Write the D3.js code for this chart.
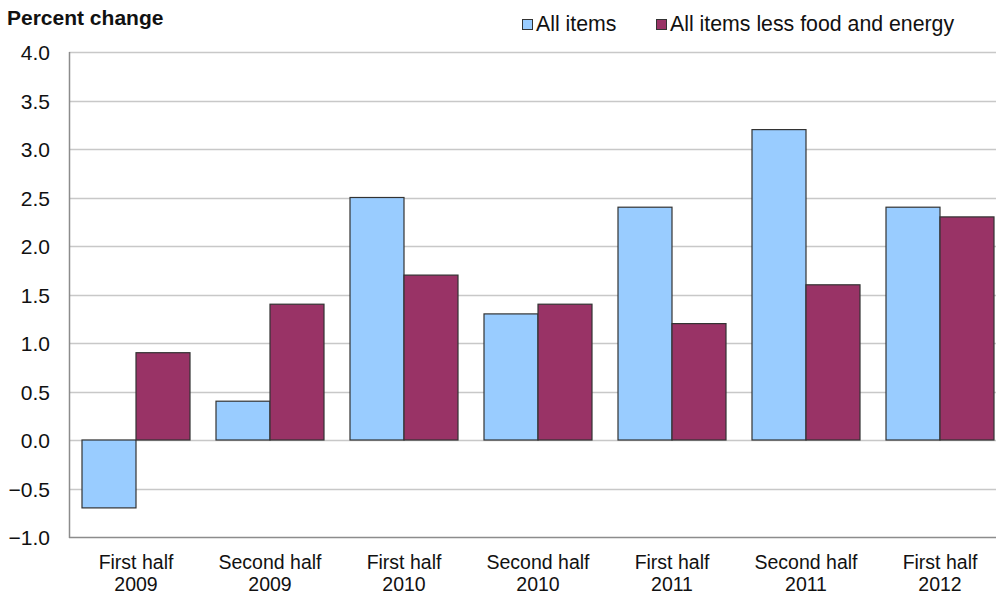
<!DOCTYPE html>
<html>
<head>
<meta charset="utf-8">
<script src="https://cdn.jsdelivr.net/npm/d3@7"></script>
<style>
  body { margin: 0; background: #fff; }
  text { font-family: "Liberation Sans", Arial, sans-serif; fill: #111; }
</style>
</head>
<body>
<svg id="chart" width="996" height="596"></svg>
<script>
const periods = [
  ["First half", "2009"], ["Second half", "2009"],
  ["First half", "2010"], ["Second half", "2010"],
  ["First half", "2011"], ["Second half", "2011"],
  ["First half", "2012"]
];
const seriesNames = ["All items", "All items less food and energy"];
const allItems = [-0.7, 0.4, 2.5, 1.3, 2.4, 3.2, 2.4];
const coreItems = [0.9, 1.4, 1.7, 1.4, 1.2, 1.6, 2.3];
const yTicks = [-1.0, -0.5, 0.0, 0.5, 1.0, 1.5, 2.0, 2.5, 3.0, 3.5, 4.0];
const colors = ["#99ccff", "#993366"];

const svg = d3.select('#chart');

// plot box (right side runs a little past the window, like the original)
const plotLeft = 69, plotRight = 1007, plotTop = 52, plotBottom = 537;

const keys = periods.map((p, i) => i);
const x = d3.scaleBand().domain(keys).range([plotLeft, plotRight]).padding(0);
const xSub = d3.scaleBand().domain(seriesNames).range([13, x.bandwidth() - 13]);
const y = d3.scaleLinear().domain([-1, 4]).range([plotBottom, plotTop]);

// gridlines
svg.append('g')
  .selectAll('line')
  .data(yTicks)
  .join('line')
  .attr('x1', plotLeft).attr('x2', plotRight)
  .attr('y1', d => Math.round(y(d)) + 0.5)
  .attr('y2', d => Math.round(y(d)) + 0.5)
  .attr('stroke', d => d === -1 ? '#8c8c8c' : '#c8c8c8')
  .attr('stroke-width', 1.5);

// left axis line
svg.append('line')
  .attr('x1', plotLeft + 0.5).attr('x2', plotLeft + 0.5)
  .attr('y1', y(4)).attr('y2', y(-1) + 1)
  .attr('stroke', '#8c8c8c').attr('stroke-width', 1.5);

// y labels
svg.append('g')
  .selectAll('text')
  .data(yTicks)
  .join('text')
  .attr('x', 50)
  .attr('y', d => y(d) + 8)
  .attr('text-anchor', 'end')
  .attr('font-size', 21)
  .text(d => d3.format('.1f')(d));

// bars
const rows = periods.map((p, i) => [
  { key: seriesNames[0], v: allItems[i], i },
  { key: seriesNames[1], v: coreItems[i], i }
]);

svg.append('g')
  .selectAll('g')
  .data(rows)
  .join('g')
  .attr('transform', (d, i) => `translate(${x(i)},0)`)
  .selectAll('rect')
  .data(d => d)
  .join('rect')
  .attr('x', d => xSub(d.key))
  .attr('y', d => y(Math.max(0, d.v)))
  .attr('width', xSub.bandwidth())
  .attr('height', d => Math.abs(y(d.v) - y(0)))
  .attr('fill', (d, j) => colors[j])
  .attr('stroke', '#333')
  .attr('stroke-width', 1.2);

// x labels, two lines each as separate texts
const xlab = svg.append('g')
  .selectAll('g')
  .data(periods)
  .join('g')
  .attr('transform', (d, i) => `translate(${x(i) + x.bandwidth() / 2},0)`);
xlab.append('text')
  .attr('text-anchor', 'middle')
  .attr('font-size', 19.5)
  .attr('y', 569)
  .text(d => d[0]);
xlab.append('text')
  .attr('text-anchor', 'middle')
  .attr('font-size', 19.5)
  .attr('y', 591)
  .text(d => d[1]);

// title
svg.append('text')
  .attr('x', 7).attr('y', 25)
  .attr('font-size', 21)
  .attr('font-weight', 'bold')
  .text('Percent change');

// legend
const legendX = [522, 656];
const lg = svg.append('g')
  .selectAll('g')
  .data(seriesNames)
  .join('g')
  .attr('transform', (d, i) => `translate(${legendX[i]},19)`);
lg.append('rect')
  .attr('x', 0.5).attr('y', 0.5)
  .attr('width', 10).attr('height', 10)
  .attr('fill', (d, i) => colors[i])
  .attr('stroke', '#333').attr('stroke-width', 1);
lg.append('text')
  .attr('x', 14).attr('y', 12)
  .attr('font-size', 21.3)
  .text(d => d);
</script>
</body>
</html>
